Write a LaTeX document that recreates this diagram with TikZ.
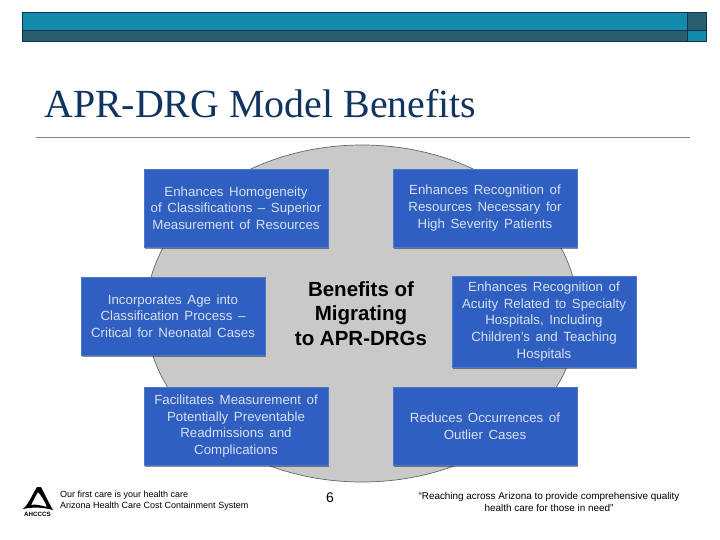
\documentclass[tikz,border=0pt]{standalone}
\usepackage{fontspec}
\setmainfont{Liberation Sans}
\newfontfamily\serifx{Liberation Serif}
\usetikzlibrary{shadows,calc,shapes.geometric}
\definecolor{bar1}{HTML}{128CAA}
\definecolor{bar2}{HTML}{2A5D70}
\definecolor{barline}{HTML}{0F3350}
\definecolor{titlec}{HTML}{0F3560}
\definecolor{rulec}{HTML}{85858F}
\definecolor{boxc}{HTML}{2F5FC0}
\definecolor{boxtop}{HTML}{4A78CC}
\definecolor{boxtext}{HTML}{D8E0F0}
\definecolor{ovalc}{HTML}{C9C9C9}
\definecolor{ovall}{HTML}{56706A}
\newcommand{\boxtextfont}{\fontsize{13.3pt}{16.7pt}\selectfont\setlength{\spaceskip}{0.42em}}
\tikzset{
  benefit/.style={rectangle,fill=boxc,draw=boxtop,line width=0.5pt,text=boxtext,align=center,
    font=\boxtextfont,minimum width=#1,inner sep=0pt,
    drop shadow={shadow xshift=1.4pt,shadow yshift=-1.5pt,opacity=0.45,fill=black}},
  barbox/.style={draw=barline,line width=0.9pt,anchor=north west,inner sep=0pt},
  foot/.style={font=\fontsize{9pt}{10.6pt}\selectfont,text=black,inner sep=0pt}
}
\begin{document}
\begin{tikzpicture}[x=1pt,y=-1pt]
\useasboundingbox (0,0) rectangle (720,540);
\fill[white] (0,0) rectangle (720,540);
% header bars
\node[barbox,fill=bar1,minimum width=665pt,minimum height=18pt] (b1) at (22,12) {};
\node[barbox,fill=bar2,minimum width=665pt,minimum height=11pt] (b2) at (22,30) {};
\node[barbox,fill=bar2,minimum width=19pt,minimum height=18.5pt] (b3) at (687,12) {};
\node[barbox,fill=bar1,minimum width=19pt,minimum height=10.5pt] (b4) at (687,30.5) {};
% title
\node[anchor=base west,inner sep=0pt,text=titlec,font=\serifx\fontsize{39.9pt}{44pt}\selectfont] (title) at (44,118) {APR-DRG Model Benefits};
\draw[rulec,line width=1.2pt] (36,137.7) -- (690,137.7);
% oval
\node[ellipse,draw=ovall,fill=ovalc,line width=0.7pt,minimum width=432pt,minimum height=337pt,inner sep=0pt] (oval) at (362,313.5) {};
% centre
\node[align=center,inner sep=0pt,text=black,font=\bfseries\fontsize{20.5pt}{24.6pt}\selectfont] (centre) at (361,313.5) {Benefits of\\Migrating\\to APR-DRGs};
% boxes
\node[benefit=184pt,minimum height=78pt] (a) at (236,208) {Enhances Homogeneity\\of Classifications – Superior\\Measurement of Resources};
\node[benefit=184pt,minimum height=78pt] (b) at (485,208) {Enhances Recognition of\\Resources Necessary for\\High Severity Patients};
\node[benefit=184pt,minimum height=78pt] (c) at (173,316) {Incorporates Age into\\Classification Process –\\Critical for Neonatal Cases};
\node[benefit=184pt,minimum height=91pt] (d) at (544,321.5) {Enhances Recognition of\\Acuity Related to Specialty\\Hospitals, Including\\Children’s and Teaching\\Hospitals};
\node[benefit=184pt,minimum height=78pt] (e) at (236,426) {Facilitates Measurement of\\Potentially Preventable\\Readmissions and\\Complications};
\node[benefit=184pt,minimum height=78pt] (f) at (485,426) {Reduces Occurrences of\\Outlier Cases};
% logo
\fill[black] (23,509) .. controls (28,505) and (31,497) .. (37,487) -- (41,487) .. controls (45,495) and (49,503) .. (53,510) -- (47,507) .. controls (44,500) and (41,495) .. (38,492) .. controls (35,497) and (33,501) .. (31,505) .. controls (35,504) and (40,505) .. (47,507) -- (53,510) .. controls (42,507) and (32,507) .. (23,509) -- cycle;
\node[anchor=center,inner sep=0pt,font=\bfseries\fontsize{6.2pt}{7pt}\selectfont] (logo) at (37.5,514.3) {AHCCCS};
% footer
\node[foot,anchor=west,align=left] (f1) at (60,500.5) {Our first care is your health care\\Arizona Health Care Cost Containment System};
\node[inner sep=0pt,font=\fontsize{14pt}{16pt}\selectfont] (num) at (330,498) {6};
\node[foot,align=center,font=\fontsize{9.9pt}{11.7pt}\selectfont] (f2) at (549,502) {“Reaching across Arizona to provide comprehensive quality\\health care for those in need”};
\end{tikzpicture}
\end{document}
